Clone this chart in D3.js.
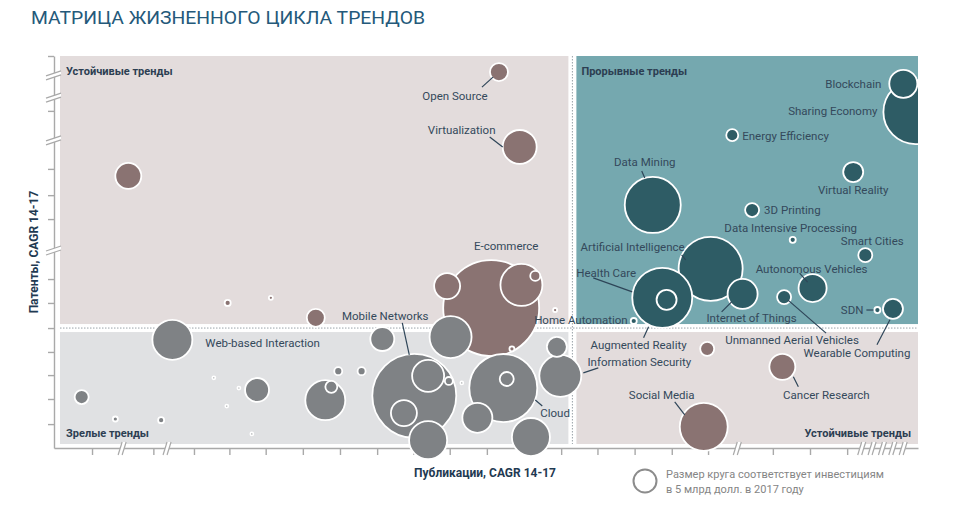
<!DOCTYPE html>
<html><head><meta charset="utf-8">
<script src="https://cdn.jsdelivr.net/npm/d3@7"></script>
<style>body{margin:0;background:#fff}text{font-family:Roboto,"Noto Sans",sans-serif}</style>
</head><body><svg id="c" width="974" height="522"></svg>
<script>
// ---------- DATA ----------
const trendNames = ["Open Source","Virtualization",null,null,null,null,"E-commerce",null,null,null,null,null,
 "Blockchain","Sharing Economy","Energy Efficiency","Virtual Reality","Data Mining","3D Printing","Data Intensive Processing","Smart Cities","Artificial Intelligence","Health Care","Augmented Reality","Internet of Things","Autonomous Vehicles","Unmanned Aerial Vehicles","SDN","Wearable Computing","Home Automation",
 null,"Cancer Research","Social Media",
 "Web-based Interaction",null,null,null,null,null,null,null,null,null,null,null,null,null,null,"Mobile Networks",null,null,null,null,null,"Cloud",null,null,null,null,"Information Security"];
const pubCAGR = [51.5,53.9,8.6,20.1,25.1,30.3,50.6,45.5,54.1,55.7,58.0,53.0,
 98.3,99.7,78.5,92.5,69.3,80.8,85.5,93.9,76.0,70.4,70.9,79.7,87.8,84.5,95.3,97.1,67.1,
 75.6,84.3,75.2,
 13.7,3.2,7.1,12.4,18.5,21.4,20.0,23.5,22.9,31.4,32.1,32.9,35.6,38.0,45.9,41.7,43.3,40.5,45.7,47.2,43.3,52.0,52.4,49.0,55.2,58.2,58.6];
const patCAGR = [95.9,76.8,69.4,37.0,38.3,33.2,35.7,41.3,41.6,43.9,35.2,25.3,
 92.9,85.7,79.8,70.4,62.0,60.7,53.1,49.2,45.7,38.3,37.8,39.3,40.8,38.5,35.2,35.5,32.4,
 25.3,20.7,5.4,
 27.6,13.0,7.4,7.1,17.9,15.3,10.7,14.8,3.6,12.2,15.6,19.6,19.6,27.8,28.3,13.3,18.4,8.9,17.1,16.6,2.0,15.3,17.6,7.7,2.8,25.8,18.4];
const investBn = [2.6,9.2,5.4,0.29,0.13,2.6,73.7,5.4,14.1,0.8,0.13,0.2,
 6.3,32.8,1.15,3.2,25.1,1.57,0.29,1.57,32.8,28.8,3.2,7.2,6.3,1.57,0.29,3.2,0.29,
 1.57,5.4,18.4,
 12.8,1.57,0.2,0.29,0.07,0.07,0.07,4.6,0.07,12.8,1.15,0.51,0.51,4.6,14.1,56.4,8.2,5.4,0.51,0.07,11.6,37,1.57,7.2,11.6,3.2,14.1];
const stage = ["s","s","s","s","s","s","s","s","s","s","s","s",
 "b","b","b","b","b","b","b","b","b","b","b","b","b","b","b","b","b",
 "s","s","s",
 "m","m","m","m","m","m","m","m","m","m","m","m","m","m","m","m","m","m","m","m","m","m","m","m","m","m","m"];
const xTicks = [4.4,11.5,16.2,20.3,24.5,28.8,33.1,37.4,41.6,45.8,50.1,54.4,58.7,62.9,67.2,71.5,75.7,83.2,87.5,91.8];
const xBreaks = [8.0,13.2,79.2,93.6,94.8,96.0,97.2,98.4];
const yTicks = [100,86.0,71.2,64.5,58.4,43.1,37.0,30.6,24.5,18.6,12.5,6.1];
const yBreaks = [95.2,89.5,78.6,50.5];
const quadrantNames = ["Устойчивые тренды","Прорывные тренды","Зрелые тренды","Устойчивые тренды"];
const titleText = "МАТРИЦА ЖИЗНЕННОГО ЦИКЛА ТРЕНДОВ";
const xTitle = "Публикации, CAGR 14-17";
const yTitle = "Патенты, CAGR 14-17";
const legendLines = ["Размер круга соответствует инвестициям","в 5 млрд долл. в 2017 году"];
const legendValue = 5;
const splitX = 60, splitY = 30.6;

// ---------- LAYOUT / STYLE ----------
const fills = {s:"#8a7372", b:"#2e5c65", m:"#7f8285"};
const textCol = "#34495b";
const labelLayout = {
 "Open Source":{dx:-44,dy:24,a:"middle",l:[-17,15,-6,5]},
 "Virtualization":{dx:-58,dy:-17,a:"middle",l:[-30,-10,-17,0]},
 "E-commerce":{dx:15,dy:-62,a:"middle"},
 "Mobile Networks":{dx:-29,dy:-80,a:"middle",l:[-12,-73,-5,-41]},
 "Web-based Interaction":{dx:33,dy:3,a:"start"},
 "Cloud":{dx:37,dy:25,a:"start",l:[32,12,39,18]},
 "Information Security":{dx:79,dy:-14,a:"middle",l:[23,-3,38,-8]},
 "Augmented Reality":{dx:-28,dy:45,a:"middle",l:[-18,27,-23,38]},
 "Home Automation":{dx:-6,dy:-1,a:"end"},
 "Social Media":{dx:-42,dy:-32,a:"middle",l:[-29,-25,-19,-12]},
 "Cancer Research":{dx:44,dy:28,a:"middle",l:[11,10,16,20]},
 "Unmanned Aerial Vehicles":{dx:8,dy:43,a:"middle",l:[4,3,42,36]},
 "Wearable Computing":{dx:-36,dy:44,a:"middle",l:[-3,11,-16,36]},
 "Blockchain":{dx:-22,dy:0,a:"end"},
 "Sharing Economy":{dx:-38,dy:-1,a:"end"},
 "Energy Efficiency":{dx:10,dy:1,a:"start"},
 "Data Mining":{dx:-8,dy:-43,a:"middle",l:[-11,-34,-8,-27]},
 "Virtual Reality":{dx:0,dy:18,a:"middle"},
 "3D Printing":{dx:12,dy:0,a:"start"},
 "Data Intensive Processing":{dx:-2,dy:-12,a:"middle"},
 "Smart Cities":{dx:7,dy:-14,a:"middle"},
 "Artificial Intelligence":{dx:-78,dy:-22,a:"middle",l:[-29,-14,-25,-9]},
 "Health Care":{dx:-56,dy:-25,a:"middle",l:[-69,-20,-30,-6]},
 "Internet of Things":{dx:9,dy:24,a:"middle",l:[-21,18,-11,8]},
 "Autonomous Vehicles":{dx:-1,dy:-19,a:"middle",l:[-13,-15,-5,-6]},
 "SDN":{dx:-14,dy:0,a:"end",l:[-11,0,-4,0]}
};

const svg = d3.select("#c");
const x = d3.scaleLinear().domain([0,100]).range([54,918]);
const y = d3.scaleLinear().domain([0,100]).range([448,56]);
const r = d3.scaleSqrt().domain([0,legendValue]).range([0,12.5]);

// title
svg.append("text").attr("x",31).attr("y",24).attr("font-size",19).attr("fill","#24597a")
  .attr("textLength",394).attr("lengthAdjust","spacingAndGlyphs").text(titleText);

// quadrants
const L = x(0)+6, R = x(100), T = y(100), B = y(0)-4, XS = x(splitX), YS = y(splitY), g = 4;
const quads = [
 {x0:L,x1:XS-g,y0:T,y1:YS-g,c:"#e3dcdc"},
 {x0:XS+g,x1:R,y0:T,y1:YS-g,c:"#75a8af"},
 {x0:L,x1:XS-g,y0:YS+g,y1:B,c:"#e0e1e3"},
 {x0:XS+g,x1:R,y0:YS+g,y1:B,c:"#e3dcdc"}];
svg.selectAll("rect.q").data(quads).join("rect").attr("class","q")
  .attr("x",d=>d.x0).attr("y",d=>d.y0).attr("width",d=>d.x1-d.x0).attr("height",d=>d.y1-d.y0).attr("fill",d=>d.c);
svg.append("line").attr("x1",XS).attr("x2",XS).attr("y1",T).attr("y2",B)
  .attr("stroke","#9aa3a8").attr("stroke-width",1).attr("stroke-dasharray","1.5,1.5");
svg.append("line").attr("x1",L).attr("x2",R).attr("y1",YS).attr("y2",YS)
  .attr("stroke","#9aa3a8").attr("stroke-width",1).attr("stroke-dasharray","1.5,1.5");

// quadrant names
const qn = [[L+6,71,"start"],[XS+9,71,"start"],[L+6,433,"start"],[R-7,433,"end"]];
quadrantNames.forEach((t,i)=>svg.append("text").attr("x",qn[i][0]).attr("y",qn[i][1]+4)
  .attr("text-anchor",qn[i][2]).attr("font-size",11).attr("font-weight",700).attr("fill","#2c3e52").text(t));

// axes
const axCol = "#a9a9a9";
const gy = svg.append("g").attr("transform",`translate(${x(0)},0)`)
  .call(d3.axisLeft(y).tickValues(yTicks).tickFormat("").tickSize(6).tickSizeOuter(0));
const gx = svg.append("g").attr("transform",`translate(0,${y(0)})`)
  .call(d3.axisBottom(x).tickValues(xTicks).tickFormat("").tickSize(7).tickSizeOuter(0));
[gx,gy].forEach(a=>{a.selectAll("path,line").attr("stroke",axCol).attr("stroke-width",1.4);});
// breaks
yBreaks.forEach(v=>{
  const py=y(v), px=x(0);
  svg.append("polygon").attr("points",`${px-8},${py+1} ${px+7},${py-4} ${px+7},${py} ${px-8},${py+5}`).attr("fill","#fff");
  [0,4].forEach(o=>svg.append("line").attr("x1",px-8).attr("y1",py+1+o).attr("x2",px+7).attr("y2",py-4+o).attr("stroke",axCol).attr("stroke-width",1.2));
});
xBreaks.forEach(v=>{
  const px=x(v), py=y(0);
  svg.append("polygon").attr("points",`${px-5},${py+7} ${px-1},${py-6} ${px+3},${py-6} ${px-1},${py+7}`).attr("fill","#fff");
  [0,4].forEach(o=>svg.append("line").attr("x1",px-5+o).attr("y1",py+7).attr("x2",px-1+o).attr("y2",py-6).attr("stroke",axCol).attr("stroke-width",1.2));
});

// axis titles
svg.append("text").attr("x",485).attr("y",477).attr("text-anchor","middle").attr("font-size",12).attr("font-weight",700).attr("fill","#1f3a52").text(xTitle);
svg.append("text").attr("transform","translate(38,252) rotate(-90)").attr("text-anchor","middle").attr("font-size",12).attr("font-weight",700).attr("fill","#1f3a52").text(yTitle);

// bubbles
const data = trendNames.map((n,i)=>({name:n,x:pubCAGR[i],y:patCAGR[i],v:investBn[i],s:stage[i]}))
  .sort((a,b)=>b.v-a.v);
svg.append("clipPath").attr("id","clip").append("rect").attr("x",0).attr("y",0).attr("width",R).attr("height",522);
svg.append("g").attr("clip-path","url(#clip)").selectAll("circle").data(data).join("circle")
  .attr("cx",d=>x(d.x)).attr("cy",d=>y(d.y)).attr("r",d=>Math.max(r(d.v),1.3))
  .attr("fill",d=>fills[d.s]).attr("stroke","#fff").attr("stroke-width",1.8);

// labels
const lab = data.filter(d=>d.name);
lab.forEach(d=>{
  const o = labelLayout[d.name]; if(!o) return;
  const cx=x(d.x), cy=y(d.y);
  if(o.l) svg.append("line").attr("x1",cx+o.l[0]).attr("y1",cy+o.l[1]).attr("x2",cx+o.l[2]).attr("y2",cy+o.l[3])
    .attr("stroke","#2e4558").attr("stroke-width",1.2);
  svg.append("text").attr("x",cx+o.dx).attr("y",cy+o.dy).attr("dy","0.35em").attr("text-anchor",o.a)
    .attr("font-size",11.5).attr("fill",textCol).text(d.name);
});

// legend
svg.append("circle").attr("cx",645).attr("cy",481).attr("r",r(legendValue)-1).attr("fill","none").attr("stroke","#8c8c8c").attr("stroke-width",2);
legendLines.forEach((t,i)=>svg.append("text").attr("x",666).attr("y",478+i*15).attr("font-size",11).attr("fill","#858585").text(t));
</script></body></html>
